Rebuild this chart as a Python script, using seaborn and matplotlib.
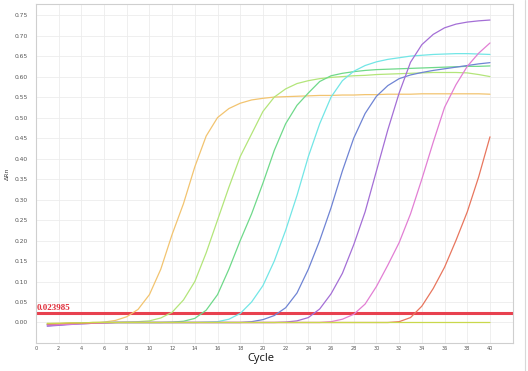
import numpy as np
import pandas as pd
import matplotlib
matplotlib.use("Agg")
import matplotlib.pyplot as plt
import seaborn as sns

# amplification data, cycles 1..40
cycles = list(range(1, 41))

orange = [-0.003, -0.002, -0.002, -0.001, 0.000, 0.001, 0.005, 0.014, 0.032, 0.068,
          0.130, 0.215, 0.290, 0.380, 0.455, 0.500, 0.522, 0.535, 0.543, 0.547,
          0.550, 0.551, 0.552, 0.553, 0.554, 0.554, 0.555, 0.555, 0.556, 0.556,
          0.557, 0.557, 0.557, 0.558, 0.558, 0.558, 0.558, 0.558, 0.558, 0.557]
light_green = [-0.004, -0.003, -0.002, -0.001, 0.000, 0.000, 0.000, 0.001, 0.002, 0.004,
               0.011, 0.025, 0.055, 0.100, 0.170, 0.250, 0.330, 0.405, 0.460, 0.515,
               0.550, 0.570, 0.583, 0.590, 0.595, 0.598, 0.600, 0.602, 0.603, 0.605,
               0.606, 0.607, 0.608, 0.609, 0.610, 0.610, 0.610, 0.609, 0.605, 0.600]
green = [-0.005, -0.004, -0.003, -0.002, -0.001, 0.000, 0.000, 0.000, 0.000, 0.000,
         0.000, 0.001, 0.003, 0.010, 0.030, 0.068, 0.130, 0.200, 0.265, 0.340,
         0.420, 0.485, 0.530, 0.560, 0.588, 0.602, 0.608, 0.612, 0.615, 0.617,
         0.618, 0.619, 0.620, 0.621, 0.622, 0.623, 0.624, 0.625, 0.625, 0.626]
cyan = [-0.005, -0.004, -0.003, -0.002, -0.001, 0.000, 0.000, 0.000, 0.000, 0.000,
        0.000, 0.000, 0.000, 0.000, 0.001, 0.002, 0.008, 0.022, 0.050, 0.090,
        0.150, 0.225, 0.310, 0.405, 0.485, 0.550, 0.590, 0.613, 0.627, 0.636,
        0.642, 0.646, 0.650, 0.652, 0.654, 0.655, 0.656, 0.656, 0.655, 0.654]
blue = [-0.008, -0.006, -0.004, -0.003, -0.002, -0.001, 0.000, 0.000, 0.000, 0.000,
        0.000, 0.000, 0.000, 0.000, 0.000, 0.000, 0.000, 0.000, 0.002, 0.007,
        0.017, 0.036, 0.072, 0.130, 0.200, 0.280, 0.370, 0.450, 0.510, 0.552,
        0.578, 0.595, 0.604, 0.610, 0.615, 0.619, 0.623, 0.627, 0.631, 0.634]
purple = [-0.009, -0.007, -0.005, -0.003, -0.002, -0.001, 0.000, 0.000, 0.000, 0.000,
          0.000, 0.000, 0.000, 0.000, 0.000, 0.000, 0.000, 0.000, 0.000, 0.000,
          0.000, 0.001, 0.004, 0.012, 0.033, 0.070, 0.120, 0.190, 0.270, 0.370,
          0.470, 0.560, 0.635, 0.678, 0.703, 0.719, 0.728, 0.733, 0.736, 0.738]
pink = [-0.006, -0.005, -0.004, -0.003, -0.002, -0.001, 0.000, 0.000, 0.000, 0.000,
        0.000, 0.000, 0.000, 0.000, 0.000, 0.000, 0.000, 0.000, 0.000, 0.000,
        0.000, 0.000, 0.000, 0.000, 0.000, 0.002, 0.008, 0.020, 0.045, 0.088,
        0.140, 0.195, 0.265, 0.350, 0.440, 0.525, 0.580, 0.625, 0.657, 0.682]
red = [-0.004, -0.003, -0.002, -0.002, -0.001, 0.000, 0.000, 0.000, 0.000, 0.000,
       0.000, 0.000, 0.000, 0.000, 0.000, 0.000, 0.000, 0.000, 0.000, 0.000,
       0.000, 0.000, 0.000, 0.000, 0.000, 0.000, 0.000, 0.000, 0.000, 0.000,
       0.000, 0.002, 0.012, 0.040, 0.083, 0.135, 0.200, 0.270, 0.355, 0.453]
ntc = [-0.002, -0.002, -0.001, -0.001, 0.000, 0.000, 0.000, 0.000, 0.000, 0.000,
       0.000, 0.000, 0.000, 0.000, 0.000, 0.000, 0.000, 0.000, 0.000, 0.000,
       0.000, 0.000, 0.000, 0.000, 0.000, 0.000, 0.000, 0.000, 0.000, 0.000,
       0.000, 0.000, 0.000, 0.000, 0.000, 0.000, 0.000, 0.000, 0.000, 0.000]

threshold = 0.023985

series = {
    "S1": orange, "S2": light_green, "S3": green, "S4": cyan, "S5": blue,
    "S6": purple, "S7": pink, "S8": red, "NTC": ntc,
}
colors = {
    "S1": "#f2c470", "S2": "#b3e57a", "S3": "#6fd98a", "S4": "#72e6e6",
    "S5": "#6f84d4", "S6": "#a46fd6", "S7": "#e27fd4", "S8": "#e8765e",
    "NTC": "#c9d84c",
}

rows = []
for name, vals in series.items():
    for c, v in zip(cycles, vals):
        rows.append((name, c, v))
df = pd.DataFrame(rows, columns=["sample", "cycle", "drn"])

sns.set_style("whitegrid")
plt.rcParams["font.family"] = ["DejaVu Sans"]

fig, ax = plt.subplots(figsize=(5.28, 3.71), dpi=100)
fig.subplots_adjust(left=0.068, right=0.971, top=0.988, bottom=0.0755)

ax.axhline(threshold, color="#e8414f", lw=2.2, zorder=1)
sns.lineplot(data=df, x="cycle", y="drn", hue="sample", palette=colors,
             legend=False, linewidth=0.9, ax=ax, zorder=2)

ax.text(0.05, threshold + 0.002, "0.023985", color="#e0303c", fontsize=6.5,
        fontweight="bold", family=["Liberation Serif"], va="bottom", ha="left")

ax.set_xlim(0, 42)
ax.set_ylim(-0.05, 0.776)
ax.set_xticks(np.arange(0, 41, 2))
ax.set_yticks(np.arange(0, 0.76, 0.05))
ax.set_yticklabels([f"{t:.2f}" for t in np.arange(0, 0.76, 0.05)])
ax.tick_params(axis="x", labelsize=3.6, colors="#555555", length=0, pad=2.5)
ax.tick_params(axis="y", labelsize=4.3, colors="#555555", length=0, pad=6)

ax.grid(True, color="#ececec", linewidth=0.6)
for sp in ax.spines.values():
    sp.set_color("#cfcfcf")
    sp.set_linewidth(0.8)

ax.set_ylabel("ΔRn", fontsize=4.5, color="#444444", labelpad=3)
ax.set_xlabel("Cycle", fontsize=8, color="#111111", family=["Open Sans"])
ax.xaxis.set_label_coords(0.472, -0.03)

fig.add_artist(plt.Line2D([0.994, 0.994], [0, 1], color="#d8d8d8", lw=0.8))

fig.savefig("out.png", dpi=100)
